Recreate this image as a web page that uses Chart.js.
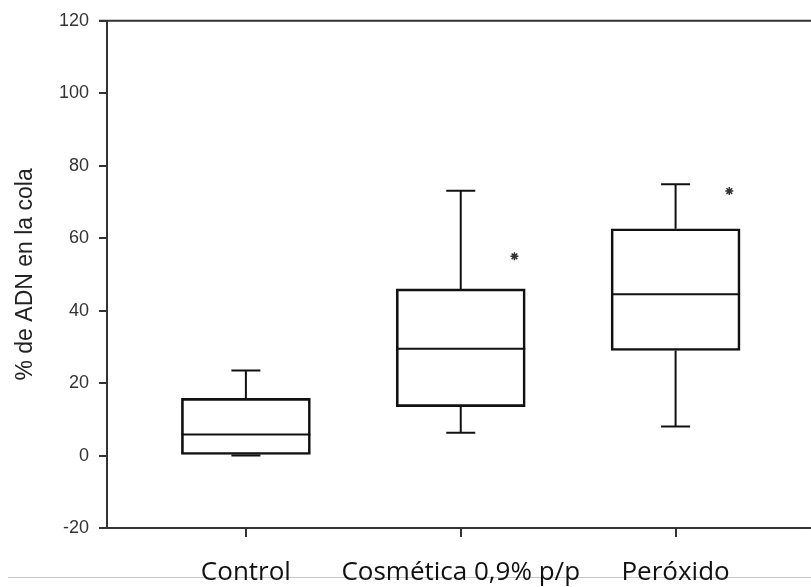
<!DOCTYPE html>
<html lang="es">
<head>
<meta charset="UTF-8">
<title>% de ADN en la cola</title>
<script src="https://cdn.jsdelivr.net/npm/chart.js@4.4.1/dist/chart.umd.min.js"></script>
<style>
  html, body { margin: 0; padding: 0; background: #fff; }
  #wrap { width: 811px; height: 587px; position: relative; }
</style>
</head>
<body>
<div id="wrap"><canvas id="box"></canvas></div>
<script>
// groups and box-plot summaries (% DNA in tail)
const groups = ["Control", "Cosmética 0,9% p/p", "Peróxido"];
const whiskerLow = [0, 6.3, 8.0];
const quart1 = [0.3, 13.5, 29.0];
const median = [5.8, 29.5, 44.5];
const quart3 = [15.8, 46.0, 62.6];
const whiskerHigh = [23.5, 73.1, 74.9];
// significance markers (*)
const sigGroup = [2, 3];
const sigValue = [55, 73];
const yTicks = [-20, 0, 20, 40, 60, 80, 100, 120];

const ink = "#111";
const frame = "#333";

// medians, whiskers, caps and the frame lines running to the canvas edge
const boxExtras = {
  id: "boxExtras",
  beforeDraw(chart) {
    const ctx = chart.ctx;
    ctx.save();
    ctx.strokeStyle = "#c8c8c8";
    ctx.lineWidth = 1;
    ctx.beginPath();
    ctx.moveTo(8, 577.5);
    ctx.lineTo(chart.width, 577.5);
    ctx.stroke();
    ctx.restore();
  },
  afterDatasetsDraw(chart) {
    const { ctx, chartArea, scales: { x, y } } = chart;
    const half = 64.5, cap = 14.5;
    ctx.save();
    ctx.strokeStyle = ink;
    ctx.lineWidth = 2;
    groups.forEach((g, i) => {
      const cx = x.getPixelForValue(i + 1);
      const hi = y.getPixelForValue(whiskerHigh[i]);
      const lo = y.getPixelForValue(whiskerLow[i]);
      const q1 = y.getPixelForValue(quart1[i]);
      const q3 = y.getPixelForValue(quart3[i]);
      const md = y.getPixelForValue(median[i]);
      ctx.beginPath();
      ctx.moveTo(cx - half, md); ctx.lineTo(cx + half, md);
      ctx.moveTo(cx, q3); ctx.lineTo(cx, hi);
      ctx.moveTo(cx - cap, hi); ctx.lineTo(cx + cap, hi);
      ctx.moveTo(cx, q1); ctx.lineTo(cx, lo);
      ctx.moveTo(cx - cap, lo); ctx.lineTo(cx + cap, lo);
      ctx.stroke();
    });
    ctx.strokeStyle = frame;
    ctx.lineWidth = 2;
    ctx.beginPath();
    ctx.moveTo(chartArea.left - 8, chartArea.top);
    ctx.lineTo(chart.width, chartArea.top);
    ctx.moveTo(chartArea.right - 1, chartArea.bottom);
    ctx.lineTo(chart.width, chartArea.bottom);
    ctx.stroke();
    ctx.restore();
  }
};

new Chart(document.getElementById("box"), {
  data: {
    datasets: [
      {
        type: "bar",
        data: groups.map((g, i) => ({ x: i + 1, y: [quart1[i], quart3[i]] })),
        backgroundColor: "rgba(0,0,0,0)",
        borderColor: ink,
        borderWidth: 2,
        borderSkipped: false,
        barThickness: 129
      },
      {
        type: "scatter",
        data: sigGroup.map((g, i) => ({ x: g + 0.25, y: sigValue[i] })),
        pointStyle: "star",
        radius: 4,
        borderColor: "#333",
        borderWidth: 1.5,
        backgroundColor: "#333"
      }
    ]
  },
  options: {
    responsive: true,
    maintainAspectRatio: false,
    animation: false,
    layout: { padding: { top: 20, right: 0, left: 0, bottom: 0 } },
    plugins: { legend: { display: false }, tooltip: { enabled: false } },
    scales: {
      x: {
        type: "linear",
        offset: false,
        min: 0.3535,
        max: 3.6047,
        afterBuildTicks(scale) { scale.ticks = groups.map((g, i) => ({ value: i + 1 })); },
        afterFit(scale) { scale.height = 59; },
        ticks: {
          callback: (v) => groups[v - 1],
          font: { family: "Open Sans", size: 26 },
          color: ink,
          padding: 20,
          maxRotation: 0,
          autoSkip: false
        },
        grid: { offset: false, drawOnChartArea: false, drawTicks: true, tickLength: 9, color: frame, lineWidth: 2 },
        border: { display: true, color: frame, width: 2 }
      },
      y: {
        min: -20,
        max: 120,
        afterBuildTicks(scale) { scale.ticks = yTicks.map((v) => ({ value: v })); },
        afterFit(scale) { scale.width = 107; },
        ticks: {
          font: { family: "Liberation Sans", size: 18 },
          color: "#333",
          padding: 10
        },
        grid: { drawOnChartArea: false, drawTicks: true, tickLength: 8, color: frame, lineWidth: 2 },
        border: { display: true, color: frame, width: 2 },
        title: {
          display: true,
          text: "% de ADN en la cola",
          font: { family: "Liberation Sans", size: 23 },
          color: "#222",
          padding: { top: 12, bottom: 0 }
        }
      }
    }
  },
  plugins: [boxExtras]
});
</script>
</body>
</html>
